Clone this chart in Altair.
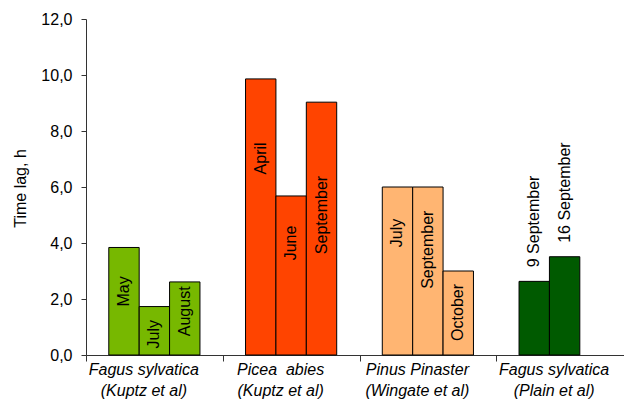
import altair as alt
import pandas as pd

groups = ["Fagus sylvatica|(Kuptz et al)", "Picea\u00a0 abies|(Kuptz et al)",
          "Pinus Pinaster|(Wingate et al)", "Fagus sylvatica|(Plain et al)"]
bar_group = [0, 0, 0, 1, 1, 1, 2, 2, 2, 3, 3]
bar_slot = [0, 1, 2, 0, 1, 2, 0, 1, 2, 0, 1]
months = ["May", "July", "August", "April", "June", "September",
          "July", "September", "October", "9 September", "16 September"]
values = [3.84, 1.73, 2.61, 9.86, 5.68, 9.03, 6.0, 6.0, 3.0, 2.63, 3.51]
label_at = [2.27, 0.74, 1.56, 7.02, 4.0, 5.0, 4.36, 3.76, 1.52, 4.77, 5.80]
colors = ["#77B800", "#FF4400", "#FFB572", "#005A00"]

df = pd.DataFrame({
    "group": [groups[g] for g in bar_group],
    "slot": bar_slot,
    "month": months,
    "value": values,
    "label_at": label_at,
})

x = alt.X("group:N", sort=groups,
          scale=alt.Scale(domain=groups, paddingInner=0, paddingOuter=0, range=[0, 547]),
          axis=alt.Axis(title=None, labelAngle=0, tickBand="extent",
                        labelExpr="split(datum.label, '|')",
                        labelFont="Liberation Sans", labelFontSize=16,
                        labelFontStyle="italic", labelColor="#000000",
                        labelLineHeight=21, labelBaseline="top",
                        labelPadding=0, labelOffset=-11, tickSize=6,
                        domainColor="#333333", tickColor="#333333",
                        labelLimit=0))
xo = alt.XOffset("slot:O", scale=alt.Scale(domain=[0, 1, 2], paddingInner=0, paddingOuter=0.75))

bars = alt.Chart(df).mark_bar(stroke="#000000", strokeWidth=1).encode(
    x=x, xOffset=xo,
    y=alt.Y("value:Q", scale=alt.Scale(domain=[0, 12]),
            axis=alt.Axis(title="Time lag, h", values=[0, 2, 4, 6, 8, 10, 12],
                          labelExpr="replace(format(datum.value, '.1f'), '.', ',')",
                          grid=False, tickSize=5, labelPadding=9,
                          labelFont="Liberation Sans", labelFontSize=16,
                          labelColor="#000000",
                          titleFont="Liberation Sans", titleFontSize=16,
                          titleFontWeight="normal", titleColor="#000000",
                          titleX=-66, titleY=169, titleAngle=270,
                          titleAlign="center", titleBaseline="middle",
                          domainColor="#333333", tickColor="#333333")),
    color=alt.Color("group:N", scale=alt.Scale(domain=groups, range=colors), legend=None),
)

labels = alt.Chart(df).mark_text(angle=270, align="center", baseline="middle",
                                 font="Liberation Sans", fontSize=16, color="#000000").encode(
    x=alt.X("group:N", sort=groups), xOffset=alt.XOffset("slot:O"),
    y=alt.Y("label_at:Q"),
    text="month:N",
)

chart = (bars + labels).properties(
    width=538, height=336,
    autosize=alt.AutoSizeParams(type="none"),
    padding={"left": 78, "top": 11, "right": 0, "bottom": 45},
).configure_view(stroke=None)

chart.save("out.html", embed_options={"renderer": "svg", "actions": False})
